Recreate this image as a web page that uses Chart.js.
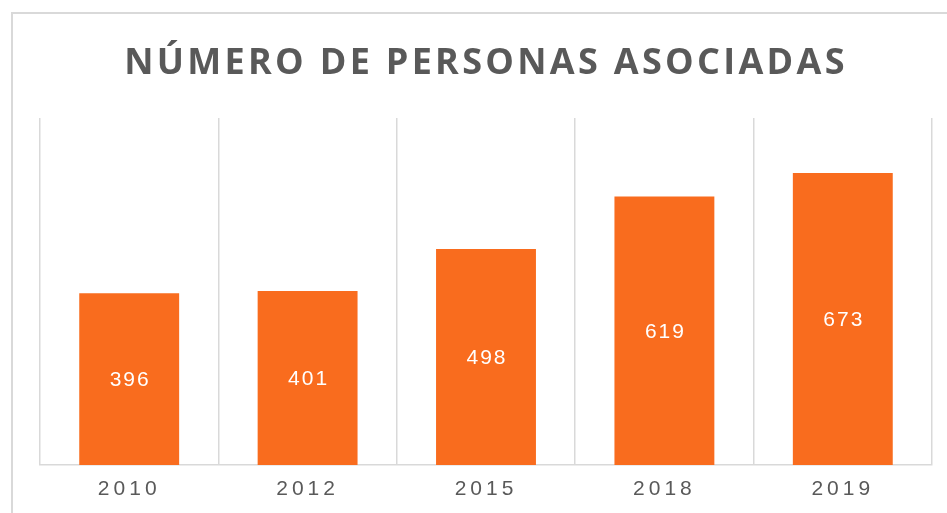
<!DOCTYPE html>
<html>
<head>
<meta charset="utf-8">
<script src="https://cdn.jsdelivr.net/npm/chart.js@4"></script>
<style>
  html, body { margin: 0; padding: 0; background: #ffffff; overflow: hidden; width: 947px; height: 513px; }
  #frame { position: absolute; left: 11px; top: 12px; width: 1000px; height: 600px; border: 2px solid #d9d9d9; box-sizing: border-box; }
  #c { position: absolute; left: 0; top: 0; }
</style>
</head>
<body>
<div id="frame"></div>
<canvas id="c" width="947" height="513"></canvas>
<script>
const categories = ['2010', '2012', '2015', '2018', '2019'];
const personas = [396, 401, 498, 619, 673];
const chartTitle = 'NÚMERO DE PERSONAS ASOCIADAS';

const barColor = '#F96C1E';
const gridColor = '#d9d9d9';
const textColor = '#595959';

function withSpacing(ctx, spacing, fn) {
  const prev = ctx.letterSpacing;
  ctx.letterSpacing = spacing;
  try { fn(); } finally { ctx.letterSpacing = prev || '0px'; }
}

const spacingPlugin = {
  id: 'spacing',
  beforeDraw(chart) {
    const ctx = chart.ctx;
    const tb = chart.titleBlock;
    if (tb && !tb._spaced) {
      const orig = tb.draw;
      tb.draw = function () { const a = arguments; withSpacing(ctx, '3.3px', () => orig.apply(this, a)); };
      tb._spaced = true;
    }
    const sx = chart.scales.x;
    if (sx && !sx._spaced) {
      const origL = sx.drawLabels;
      sx.drawLabels = function () { const a = arguments; withSpacing(ctx, '4px', () => origL.apply(this, a)); };
      sx._spaced = true;
    }
  }
};

const valueLabels = {
  id: 'valueLabels',
  afterDatasetsDraw(chart) {
    const ctx = chart.ctx;
    const meta = chart.getDatasetMeta(0);
    const data = chart.data.datasets[0].data;
    ctx.save();
    ctx.font = '21px "Liberation Sans", Arial, sans-serif';
    ctx.fillStyle = '#ffffff';
    ctx.textAlign = 'center';
    ctx.textBaseline = 'middle';
    ctx.letterSpacing = '2px';
    meta.data.forEach((bar, i) => {
      const p = bar.getProps(['x', 'y', 'base'], true);
      ctx.fillText(String(data[i]), p.x + 1, (p.y + p.base) / 2 + 1);
    });
    ctx.restore();
  }
};

new Chart(document.getElementById('c'), {
  type: 'bar',
  data: {
    labels: categories,
    datasets: [{
      label: 'Personas asociadas',
      data: personas,
      backgroundColor: barColor,
      borderWidth: 0,
      categoryPercentage: 1,
      barPercentage: 0.56
    }]
  },
  options: {
    responsive: false,
    devicePixelRatio: 1,
    animation: false,
    layout: { padding: { left: 40, right: 15, top: 0, bottom: 0 } },
    plugins: {
      legend: { display: false },
      tooltip: { enabled: false },
      title: {
        display: true,
        text: chartTitle,
        color: textColor,
        font: { family: '"Open Sans", sans-serif', size: 36, weight: 'bold', lineHeight: 1.2 },
        padding: { top: 41.8, bottom: 33 }
      }
    },
    scales: {
      x: {
        grid: { display: true, color: gridColor, lineWidth: 1.5, offset: true, drawTicks: false },
        border: { display: true, color: gridColor, width: 1.5 },
        ticks: {
          color: textColor,
          padding: 12,
          font: { family: '"Liberation Sans", Arial, sans-serif', size: 21, lineHeight: 1.2 }
        },
        afterFit(scale) { scale.height = 48; }
      },
      y: {
        display: false,
        min: 0,
        max: 800
      }
    }
  },
  plugins: [spacingPlugin, valueLabels]
});
</script>
</body>
</html>
